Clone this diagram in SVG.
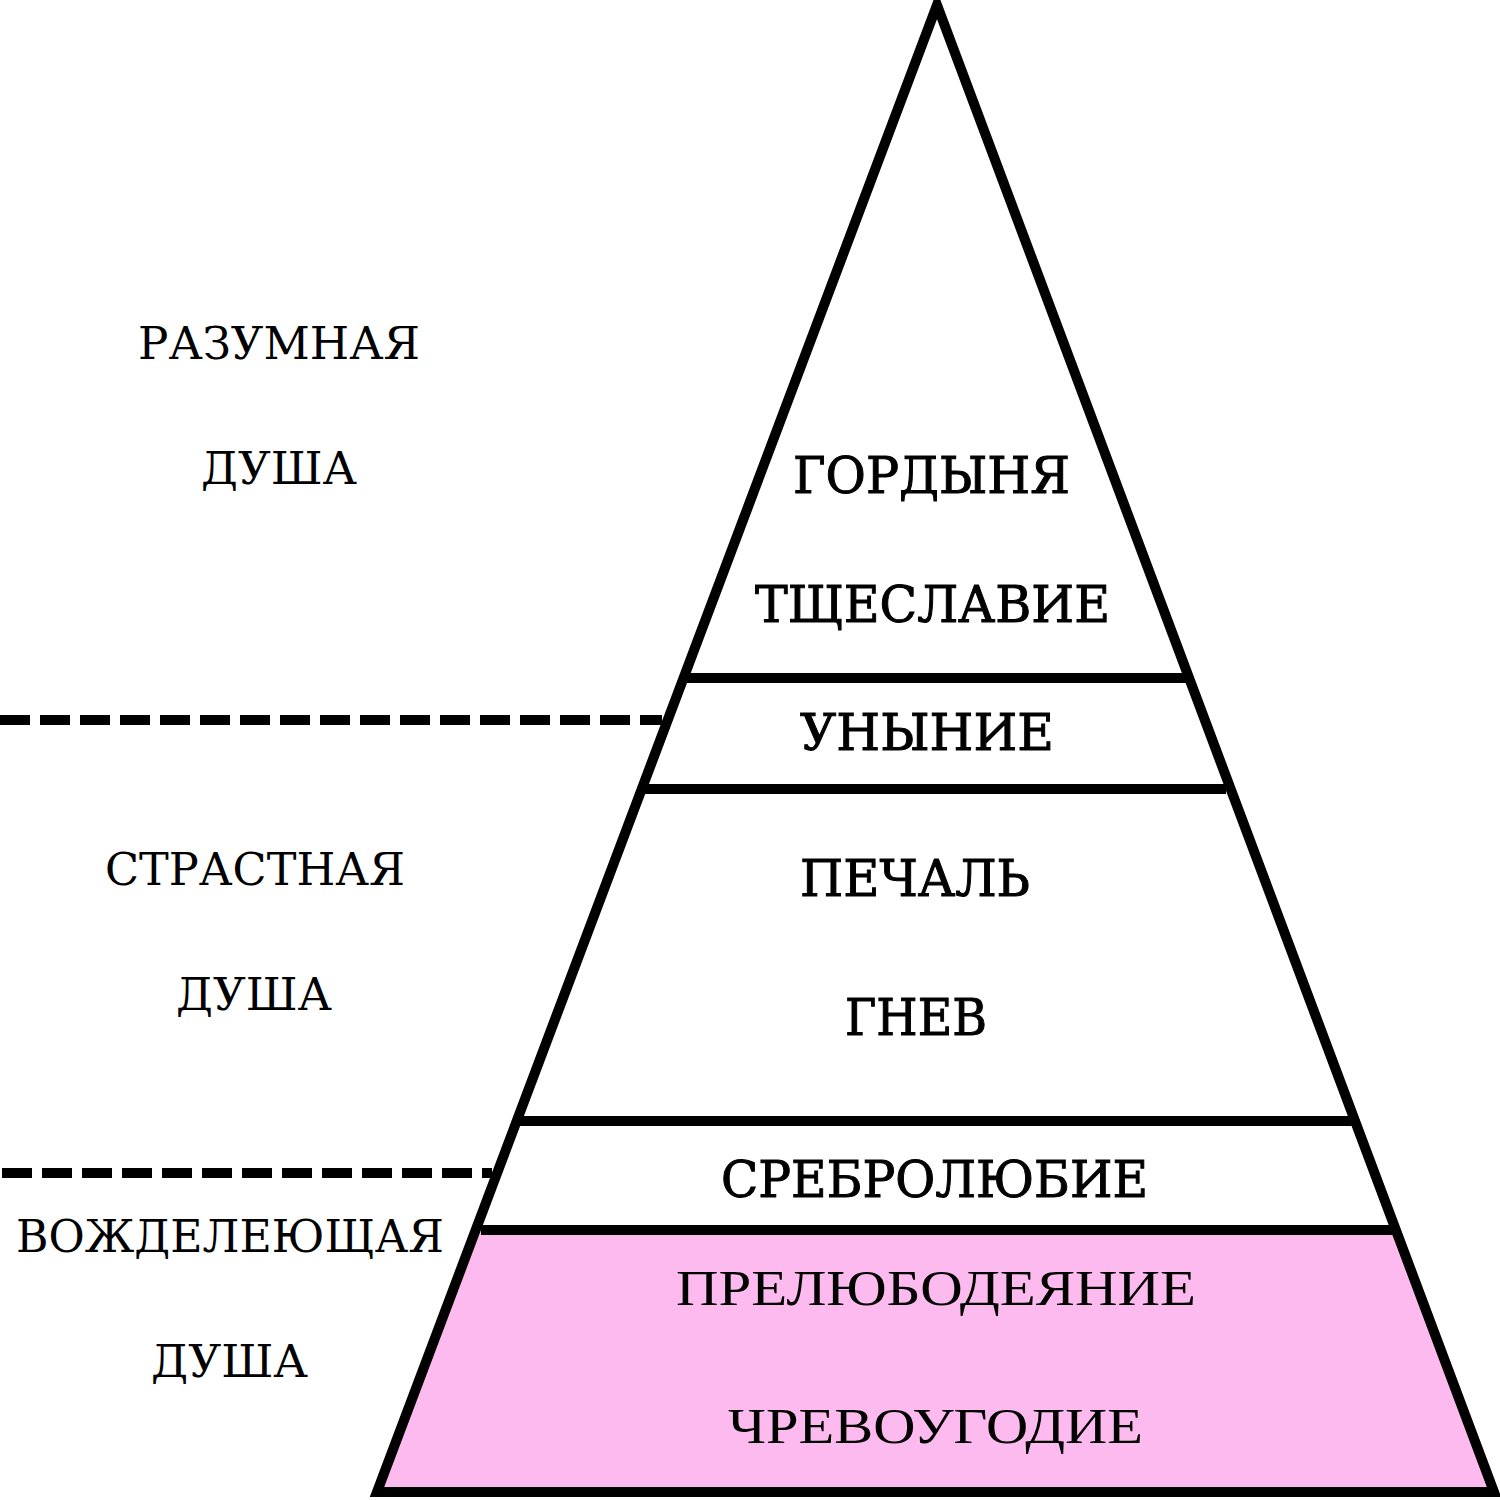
<svg xmlns="http://www.w3.org/2000/svg" width="1500" height="1500" viewBox="0 0 1500 1500">
<style>
.edge{stroke:#000;stroke-width:10;fill:none;stroke-linecap:butt;}
.dash{stroke:#000;stroke-width:10;stroke-dasharray:30 10;fill:none;}
.side{font-family:"DejaVu Serif",serif;font-size:44px;fill:#000;}
.lvl{font-family:"DejaVu Serif",serif;font-size:51px;fill:#000;stroke:#000;stroke-width:1;}
.low{font-family:"Liberation Serif",serif;font-size:50px;fill:#000;}
</style>
<rect width="1500" height="1500" fill="#fff"/>
<g id="base-fill">
<polygon points="481,1230 1394,1230 1494,1492 377,1492" fill="#FDBAEE"/>
</g>
<g id="connectors">
<polygon class="edge" points="937,5 1494,1492 377,1492" stroke-linejoin="miter"/>
<line class="edge" x1="684" y1="678" x2="1188" y2="678"/>
<line class="edge" x1="643" y1="789" x2="1226" y2="789"/>
<line class="edge" x1="520" y1="1121" x2="1354" y2="1121"/>
<line class="edge" x1="481" y1="1230" x2="1394" y2="1230"/>
<line class="dash" x1="0" y1="720" x2="662" y2="720"/>
<line class="dash" x1="2" y1="1173" x2="492" y2="1173"/>
</g>
<g id="pyramid-labels">
<text class="lvl" x="793" y="493" textLength="277" lengthAdjust="spacingAndGlyphs">ГОРДЫНЯ</text>
<text class="lvl" x="755" y="622" textLength="355" lengthAdjust="spacingAndGlyphs">ТЩЕСЛАВИЕ</text>
<text class="lvl" x="800" y="750" textLength="254" lengthAdjust="spacingAndGlyphs">УНЫНИЕ</text>
<text class="lvl" x="800" y="896" textLength="230" lengthAdjust="spacingAndGlyphs">ПЕЧАЛЬ</text>
<text class="lvl" x="845" y="1035" textLength="142" lengthAdjust="spacingAndGlyphs">ГНЕВ</text>
<text class="lvl" x="721" y="1197" textLength="427" lengthAdjust="spacingAndGlyphs">СРЕБРОЛЮБИЕ</text>
<text class="low" x="676" y="1305" textLength="520" lengthAdjust="spacingAndGlyphs">ПРЕЛЮБОДЕЯНИЕ</text>
<text class="low" x="728" y="1443" textLength="415" lengthAdjust="spacingAndGlyphs">ЧРЕВОУГОДИЕ</text>
</g>
<g id="soul-labels">
<text class="side" x="138" y="359" textLength="282" lengthAdjust="spacingAndGlyphs">РАЗУМНАЯ</text>
<text class="side" x="201" y="484" textLength="156" lengthAdjust="spacingAndGlyphs">ДУША</text>
<text class="side" x="105" y="885" textLength="300" lengthAdjust="spacingAndGlyphs">СТРАСТНАЯ</text>
<text class="side" x="176" y="1010" textLength="156" lengthAdjust="spacingAndGlyphs">ДУША</text>
<text class="side" x="16" y="1252" textLength="428" lengthAdjust="spacingAndGlyphs">ВОЖДЕЛЕЮЩАЯ</text>
<text class="side" x="151" y="1377" textLength="157" lengthAdjust="spacingAndGlyphs">ДУША</text>
</g>
</svg>
